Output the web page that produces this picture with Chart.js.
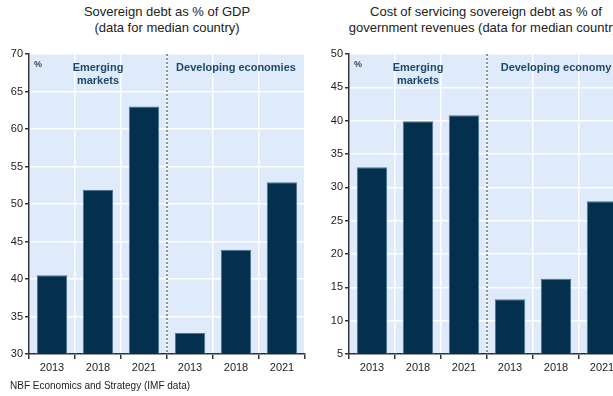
<!DOCTYPE html>
<html>
<head>
<meta charset="utf-8">
<script src="https://cdn.jsdelivr.net/npm/chart.js@4/dist/chart.umd.min.js"></script>
<style>
  html, body { margin: 0; padding: 0; background: #fff; overflow: hidden; }
  body { width: 613px; height: 396px; position: relative; font-family: 'Liberation Sans', Arial, sans-serif; }
  .title { position: absolute; top: 4px; width: 320px; text-align: center; font-size: 13px; line-height: 16px; color: #222; white-space: nowrap; }
  .box { position: absolute; top: 0; width: 310px; height: 396px; }
  .source { position: absolute; left: 10px; top: 380px; font-size: 10px; color: #222; }
</style>
</head>
<body>
<div class="title" style="left:7px">Sovereign debt as % of GDP<br>(data for median country)</div>
<div class="title" style="left:326px">Cost of servicing sovereign debt as % of<br>government revenues (data for median country)</div>
<div class="box" style="left:0"><canvas id="debtChart" width="310" height="396"></canvas></div>
<div class="box" style="left:320px"><canvas id="costChart" width="310" height="396"></canvas></div>
<div class="source">NBF Economics and Strategy (IMF data)</div>
<script>
// Categories: 3 emerging market years, then 3 developing economy years
const categories = ['2013', '2018', '2021', '2013', '2018', '2021'];

// Median country values
const debtToGdp = [40.5, 51.9, 63.0, 32.8, 43.9, 52.9];
const debtServiceCost = [33.0, 39.9, 40.8, 13.2, 16.3, 27.9];

// Axis ranges
const debtAxis = { min: 30, max: 70, step: 5 };
const costAxis = { min: 5, max: 50, step: 5 };

const FONT = "'Liberation Sans', Arial, sans-serif";

// Light blue plot background, dotted group separator and group labels
const decorations = {
    id: 'decorations',
    beforeDraw(chart) {
        const { ctx, chartArea: a } = chart;
        ctx.save();
        ctx.fillStyle = '#dfeafb';
        ctx.fillRect(a.left, a.top, a.right - a.left, a.bottom - a.top);
        ctx.restore();
    },
    afterDatasetsDraw(chart) {
        const { ctx, chartArea: a, scales: { x } } = chart;
        const opts = chart.options.plugins.decorations;
        const sep = (x.getPixelForValue(2) + x.getPixelForValue(3)) / 2;
        ctx.save();
        ctx.strokeStyle = '#6f6f6f';
        ctx.lineWidth = 1.5;
        ctx.setLineDash([2, 2]);
        ctx.beginPath();
        ctx.moveTo(sep, a.top);
        ctx.lineTo(sep, a.bottom);
        ctx.stroke();
        ctx.setLineDash([]);

        ctx.fillStyle = '#444';
        ctx.font = 'bold 9px ' + FONT;
        ctx.textAlign = 'left';
        ctx.textBaseline = 'middle';
        ctx.fillText('%', a.left + 5, a.top + 11);

        ctx.fillStyle = '#1d4a6b';
        ctx.font = 'bold 11px ' + FONT;
        ctx.textAlign = 'center';
        const em = x.getPixelForValue(1);
        ctx.fillText('Emerging', em, a.top + 14);
        ctx.fillText('markets', em, a.top + 27);
        ctx.fillText(opts.devLabel, x.getPixelForValue(4), a.top + 14);
        ctx.restore();
    }
};

// Function to create charts
function createChart(elementId, values, axis, devLabel) {
    return new Chart(document.getElementById(elementId), {
        type: 'bar',
        data: {
            labels: categories,
            datasets: [{
                data: values,
                backgroundColor: '#03314d',
                borderColor: '#4e7593',
                borderWidth: { top: 1, left: 1, right: 1, bottom: 0 },
                borderSkipped: false,
                categoryPercentage: 1,
                barPercentage: 0.66
            }]
        },
        options: {
            responsive: false,
            animation: false,
            layout: { padding: { top: 54, right: 5, bottom: 20, left: 0 } },
            plugins: {
                legend: { display: false },
                tooltip: { enabled: false },
                decorations: { devLabel: devLabel }
            },
            scales: {
                x: {
                    afterFit(scale) { scale.height = 22; },
                    grid: { offset: true, color: '#ffffff', lineWidth: 1.5, tickColor: '#333', tickLength: 5 },
                    border: { color: '#333', width: 1.5 },
                    ticks: { color: '#222', font: { family: FONT, size: 11 }, padding: 2, maxRotation: 0 }
                },
                y: {
                    min: axis.min,
                    max: axis.max,
                    afterFit(scale) { scale.width = 29; },
                    grid: { color: '#ffffff', lineWidth: 1.5, tickColor: '#333', tickLength: 4 },
                    border: { color: '#333', width: 1.5 },
                    ticks: { stepSize: axis.step, color: '#222', font: { family: FONT, size: 11 }, padding: 2 }
                }
            }
        },
        plugins: [decorations]
    });
}

const debtChart = createChart('debtChart', debtToGdp, debtAxis, 'Developing economies');
const costChart = createChart('costChart', debtServiceCost, costAxis, 'Developing economy');
</script>
</body>
</html>
